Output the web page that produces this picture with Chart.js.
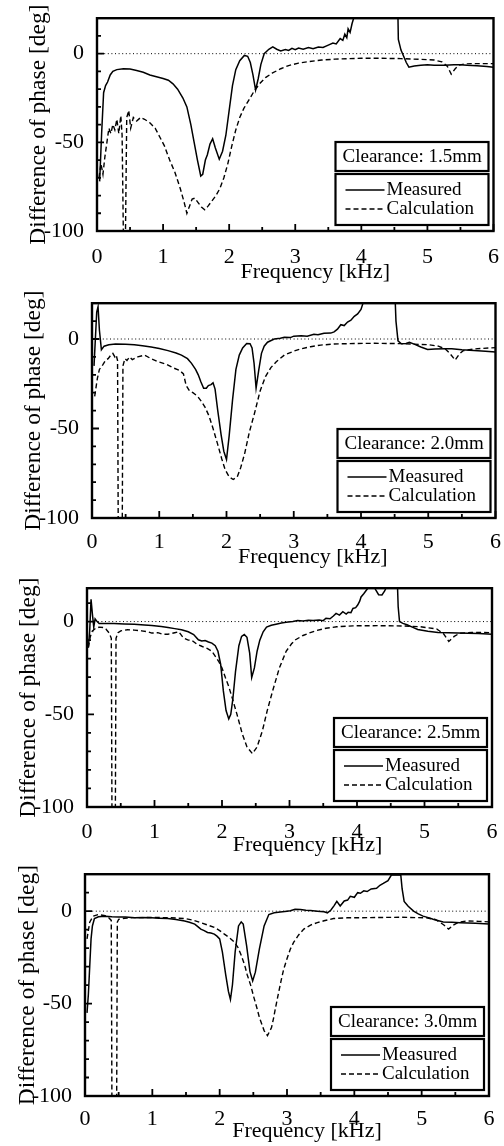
<!DOCTYPE html>
<html><head><meta charset="utf-8">
<script src="https://cdn.jsdelivr.net/npm/chart.js@4.4.1/dist/chart.umd.min.js"></script>
<style>
html,body{margin:0;padding:0;background:#fff;overflow:hidden;width:504px;height:1146px;}
canvas{position:absolute;left:0;}
</style></head><body>
<canvas id="c0"></canvas><canvas id="c1"></canvas><canvas id="c2"></canvas><canvas id="c3"></canvas>
<script>
// ---------- data ----------
const clearances = ['1.5', '2.0', '2.5', '3.0'];
const xTickValues = [0, 1, 2, 3, 4, 5, 6];
const xMinorTicks = [0.5, 1.5, 2.5, 3.5, 4.5, 5.5];
const yTickValues = [-100, -50, 0];
const yMinorTicks = [-90, -80, -70, -60, -40, -30, -20, -10, 10];
const yMaxValues = [20, 20, 18, 20];
const zeroX = [0, 6];
const zeroY = [0, 0];

// Clearance 1.5 mm
const freqMeas15 = [0.04,0.07,0.10,0.13,0.16,0.2,0.24,0.3,0.4,0.5,0.6,0.7,0.8,0.9,1.0,1.08,1.15,1.22,1.3,1.36,1.42,1.47,1.52,1.57,1.6,1.64,1.67,1.71,1.75,1.79,1.85,1.9,1.95,2.0,2.05,2.1,2.16,2.23,2.28,2.32,2.36,2.4,2.44,2.48,2.53,2.6,2.66,2.72,2.78,2.85,2.9,2.95,3.0,3.05,3.12,3.2,3.27,3.35,3.42,3.5,3.57,3.62,3.68,3.72,3.75,3.78,3.8,3.83,3.86,3.9,3.92,4.55,4.56,4.6,4.64,4.68,4.72,4.8,4.9,5.0,5.1,5.26,5.4,5.5,5.6,5.75,5.9,6.0];
const phaseMeas15 = [-72,-45,-22,-18,-16,-12,-10,-9,-8.5,-8.7,-9.5,-10.5,-12,-13,-14,-15,-17,-20,-25,-30,-40,-50,-60,-69,-68,-60,-57,-51,-48,-53,-59.5,-55,-46,-32,-18,-9,-4,-1,-1.5,-5,-12,-20.5,-14,-6,0,2.5,3.8,2.5,1.5,2.3,1.8,3,2.2,3.2,2.5,3.5,2.8,3.8,3.5,4.8,6,5.5,8.5,7.5,11,9,14,12,17,22,30,30,8,2,-1.5,-5,-7.6,-7,-6.5,-6.2,-6.5,-6.5,-6.2,-6.2,-6.5,-6.8,-7.2,-7.6];
const freqCalc15 = [0.03,0.06,0.09,0.12,0.15,0.18,0.21,0.24,0.27,0.3,0.33,0.36,0.38,0.40,0.43,0.45,0.48,0.51,0.55,0.6,0.66,0.72,0.8,0.88,0.95,1.02,1.1,1.18,1.26,1.32,1.36,1.4,1.44,1.48,1.53,1.58,1.63,1.68,1.74,1.8,1.86,1.92,1.98,2.04,2.1,2.16,2.22,2.3,2.38,2.46,2.55,2.65,2.78,2.9,3.05,3.2,3.4,3.6,3.8,4.0,4.3,4.6,4.9,5.1,5.22,5.3,5.36,5.42,5.48,5.56,5.7,6.0];
const phaseCalc15 = [-70,-62,-68,-58,-50,-42,-45,-40,-43,-37,-45,-35,-46,-105,-105,-36,-32,-42,-36,-38,-36,-37,-39,-42,-47,-52,-60,-67,-76,-84,-90,-86,-82,-81.5,-84,-86.5,-88,-86,-83,-80,-76,-70,-62,-52,-43,-36,-31,-26,-21,-17,-13.5,-11,-8.5,-6.7,-5.3,-4.5,-3.6,-3.1,-2.8,-2.6,-2.6,-2.8,-3.2,-3.6,-4.6,-7,-11.5,-8.5,-6.5,-5.8,-5.6,-5.6];

// Clearance 2.0 mm
const freqMeas20 = [0.03,0.07,0.09,0.11,0.14,0.18,0.25,0.35,0.5,0.63,0.75,0.88,1.0,1.13,1.25,1.33,1.42,1.48,1.54,1.58,1.62,1.66,1.7,1.73,1.77,1.8,1.83,1.87,1.92,1.96,2.0,2.04,2.09,2.14,2.19,2.24,2.3,2.35,2.38,2.41,2.44,2.48,2.52,2.56,2.61,2.71,2.8,2.86,2.95,3.0,3.11,3.2,3.3,3.36,3.45,3.55,3.6,3.65,3.7,3.75,3.8,3.85,3.9,3.95,4.0,4.03,4.05,4.5,4.52,4.55,4.6,4.67,4.72,4.8,4.89,4.99,5.1,5.25,5.35,5.5,5.68,5.85,6.0];
const phaseMeas20 = [-15,15,18,5,-6,-4,-3.2,-2.8,-3,-3.2,-3.8,-4.5,-5.3,-6.5,-7.8,-9,-11,-13.6,-17,-20,-24,-27.5,-27.5,-26,-25.5,-24.5,-28,-40,-53.6,-62.7,-67.3,-54,-34,-17,-9,-5,-2.5,-2.6,-5,-13.6,-27.5,-17.3,-8,-4,-1.8,0,0.4,1,0.8,1.6,1.8,1.5,2.6,2.4,3.2,3.3,4,5.5,8,7.5,9.5,10.5,12.7,14,16.5,20,30,30,10,-1,-2.7,-2.5,-1.8,-3,-4.5,-5.8,-5.6,-5.4,-5.5,-6,-6.4,-6.8,-7.3];
const freqCalc20 = [0.04,0.08,0.11,0.16,0.2,0.24,0.28,0.31,0.34,0.36,0.38,0.39,0.45,0.46,0.49,0.52,0.56,0.6,0.68,0.78,0.88,0.98,1.1,1.2,1.3,1.36,1.4,1.45,1.5,1.57,1.63,1.68,1.74,1.8,1.87,1.93,1.98,2.04,2.1,2.16,2.21,2.27,2.34,2.42,2.5,2.58,2.66,2.74,2.86,3.0,3.11,3.25,3.4,3.6,3.9,4.2,4.6,5.0,5.15,5.25,5.32,5.4,5.46,5.52,5.7,6.0];
const phaseCalc20 = [-32,-22,-17,-14.5,-12,-11,-9,-8,-10,-9,-12,-105,-105,-15,-11,-12,-10,-11.5,-10,-9,-11,-12.7,-14,-16,-17.5,-19.5,-26,-29,-30,-32,-35,-38,-43,-50,-59,-67,-73,-77,-78.5,-77,-72,-64,-52,-41,-29,-21,-16,-12.7,-9,-6.8,-5.5,-4.3,-3.4,-2.8,-2.5,-2.4,-2.6,-3.2,-4,-5.5,-8,-11.8,-8.5,-6.5,-5.5,-4.8];

// Clearance 2.5 mm
const freqMeas25 = [0.02,0.04,0.06,0.08,0.1,0.12,0.15,0.18,0.25,0.4,0.55,0.7,0.85,0.96,1.1,1.2,1.3,1.4,1.5,1.58,1.65,1.7,1.75,1.8,1.85,1.9,1.94,1.98,2.02,2.06,2.1,2.13,2.16,2.2,2.25,2.29,2.33,2.37,2.41,2.44,2.48,2.52,2.56,2.61,2.66,2.73,2.8,2.88,2.95,3.05,3.12,3.2,3.28,3.35,3.44,3.5,3.54,3.6,3.65,3.69,3.74,3.79,3.84,3.87,3.91,3.94,3.98,4.01,4.04,4.06,4.1,4.16,4.25,4.28,4.32,4.37,4.41,4.44,4.6,4.61,4.63,4.68,4.74,4.82,4.9,5.05,5.2,5.5,5.8,6.0];
const phaseMeas25 = [-14,-5,12,4,-3,1.5,0,-1,-1,-1.1,-1.3,-1.5,-1.8,-2.1,-2.7,-3.2,-3.8,-4.4,-5.5,-7,-9.8,-10.5,-10.2,-11,-11.6,-13,-16,-23,-37.4,-48,-52.5,-50,-42,-27,-13,-8,-7,-8.5,-17,-30.2,-25,-16,-10,-5.5,-3,-2,-1.4,-0.8,-0.4,0,0.6,0.3,0.7,0.6,0.9,0.5,1.8,1.5,3,4.4,3.5,5.3,4,5,4.8,7.1,7.5,8.9,11,13.3,15,18,19,17,14.5,14.4,16.5,19,19,8,0,-1,-1.7,-3,-4.3,-5.2,-5.9,-6.2,-6.4,-6.8];
const freqCalc25 = [0.02,0.05,0.08,0.13,0.18,0.24,0.28,0.33,0.36,0.37,0.42,0.43,0.46,0.5,0.6,0.7,0.81,0.9,0.96,1.05,1.12,1.2,1.3,1.36,1.43,1.5,1.55,1.62,1.7,1.78,1.85,1.95,2.0,2.05,2.1,2.15,2.22,2.3,2.37,2.45,2.52,2.6,2.67,2.75,2.85,2.95,3.03,3.09,3.2,3.29,3.4,3.54,3.7,3.94,4.3,4.7,4.94,5.18,5.28,5.36,5.44,5.52,5.7,6.0];
const phaseCalc25 = [-14,-8,-5,-3.6,-3,-3.2,-4,-6.2,-9,-105,-105,-9,-6,-5,-4.4,-4.6,-5,-5.5,-6.2,-6,-6.8,-6.8,-6,-5.5,-8.9,-10,-10,-12,-13.3,-14.5,-16,-21.4,-25,-30.2,-35,-41,-49.8,-60.5,-67.6,-71.2,-67.6,-58.7,-48,-37.4,-25,-16,-12,-9.8,-7.5,-6.2,-4.8,-3.6,-2.8,-2.3,-2.2,-2.4,-2.8,-4,-6.5,-10.7,-8,-6.3,-5.8,-6];

// Clearance 3.0 mm
const freqMeas30 = [0.03,0.05,0.07,0.09,0.11,0.14,0.2,0.3,0.4,0.5,0.6,0.74,0.85,0.99,1.1,1.23,1.35,1.48,1.55,1.63,1.68,1.72,1.77,1.82,1.87,1.92,1.96,2.0,2.04,2.09,2.13,2.16,2.19,2.23,2.28,2.32,2.35,2.4,2.45,2.49,2.53,2.59,2.66,2.73,2.81,2.9,3.0,3.05,3.12,3.2,3.28,3.35,3.45,3.55,3.6,3.65,3.7,3.74,3.79,3.85,3.9,3.94,4.0,4.05,4.09,4.14,4.19,4.25,4.33,4.38,4.43,4.5,4.55,4.69,4.71,4.74,4.8,4.88,4.95,5.02,5.1,5.17,5.32,5.45,5.57,5.8,6.0];
const phaseMeas30 = [-55,-45,-30,-15,-8,-4,-3,-2.8,-3,-3.1,-3.2,-3.5,-3.4,-3.6,-3.8,-4,-4.5,-5.3,-6,-7,-8.5,-9.7,-10.5,-11.5,-11.8,-12.4,-13.5,-15,-22,-34.5,-43.4,-47.8,-39.8,-22,-8,-5.8,-7,-18.6,-32.7,-37.7,-33,-20.4,-8,-1.8,-0.9,-0.5,0,0.2,1,0.9,0.5,0.3,0,-0.3,-0.9,0.5,3,5.3,2.8,5.5,6,8,7.5,10,9.7,11,10.6,12,12.4,14,15,16.5,19.5,19.5,12,5.3,2.7,0,-1.5,-2.7,-3.5,-4.4,-5.8,-6,-6.2,-6.6,-7];
const freqCalc30 = [0.03,0.07,0.12,0.2,0.3,0.35,0.39,0.4,0.47,0.48,0.5,0.59,0.7,0.84,1.0,1.23,1.48,1.6,1.72,1.82,1.92,2.0,2.07,2.15,2.22,2.27,2.32,2.37,2.41,2.46,2.51,2.55,2.59,2.63,2.66,2.71,2.77,2.8,2.83,2.87,2.91,2.95,3.0,3.05,3.1,3.17,3.25,3.35,3.45,3.55,3.69,3.9,4.19,4.68,5.07,5.2,5.27,5.33,5.4,5.47,5.55,5.67,5.85,6.0];
const phaseCalc30 = [-15,-6,-2.7,-1.8,-2.5,-3.5,-5,-105,-105,-6,-4.4,-3.8,-3.5,-3.5,-3.4,-3.5,-4,-4.8,-6.2,-7.5,-8.8,-10.5,-12.4,-14.5,-16.8,-19.5,-23.9,-29,-34.5,-40,-46.9,-52,-57.5,-61.5,-64.6,-67.3,-63,-58,-52.2,-45,-38,-31.5,-25.7,-20.5,-16.8,-13,-9.7,-7.5,-6.2,-5.2,-4,-3.6,-3.5,-3.3,-3.6,-4.5,-6,-7.5,-9.7,-7.5,-6,-5.3,-5.5,-5.8];

const panels = [
  {clear: clearances[0], fm: freqMeas15, pm: phaseMeas15, fc: freqCalc15, pc: phaseCalc15, ymax: yMaxValues[0]},
  {clear: clearances[1], fm: freqMeas20, pm: phaseMeas20, fc: freqCalc20, pc: phaseCalc20, ymax: yMaxValues[1]},
  {clear: clearances[2], fm: freqMeas25, pm: phaseMeas25, fc: freqCalc25, pc: phaseCalc25, ymax: yMaxValues[2]},
  {clear: clearances[3], fm: freqMeas30, pm: phaseMeas30, fc: freqCalc30, pc: phaseCalc30, ymax: yMaxValues[3]},
];

// ---------- layout / style ----------
const layouts = [
  {top: 0,   h: 300, L: 97, R: 501, T: 11, B: 231, yTitlePad: 27, xTickPad: 5, xTitleDx: 20, xTitleDy: 41},
  {top: 285, h: 300, L: 92, R: 496, T: 11, B: 233, yTitlePad: 22, xTickPad: 3, xTitleDx: 19, xTitleDy: 39},
  {top: 570, h: 300, L: 87, R: 492, T: 16, B: 237, yTitlePad: 17, xTickPad: 4, xTitleDx: 18, xTitleDy: 38},
  {top: 856, h: 290, L: 85, R: 489, T: 14, B: 240, yTitlePad: 16, xTickPad: 2, xTitleDx: 20, xTitleDy: 35},
];
const FAM = "'Liberation Serif', 'Times New Roman', serif";
Chart.defaults.font.family = FAM;
Chart.defaults.color = '#000';

const zip = (xs, ys) => xs.map((x, i) => ({x: x, y: ys[i]}));

const decorPlugin = {
  id: 'decor',
  afterDraw(chart, args, opts) {
    const ctx = chart.ctx;
    const a = chart.chartArea;
    const xs = chart.scales.x, ys = chart.scales.y;
    ctx.save();
    ctx.strokeStyle = '#000';
    ctx.fillStyle = '#000';
    // ticks (inward)
    ctx.lineWidth = 1.8;
    ctx.beginPath();
    xTickValues.forEach(v => { const px = xs.getPixelForValue(v); ctx.moveTo(px, a.bottom); ctx.lineTo(px, a.bottom - 7); });
    xMinorTicks.forEach(v => { const px = xs.getPixelForValue(v); ctx.moveTo(px, a.bottom); ctx.lineTo(px, a.bottom - 4); });
    yTickValues.forEach(v => { const py = ys.getPixelForValue(v); ctx.moveTo(a.left, py); ctx.lineTo(a.left + 7, py); });
    yMinorTicks.filter(v => v < ys.max).forEach(v => { const py = ys.getPixelForValue(v); ctx.moveTo(a.left, py); ctx.lineTo(a.left + 4, py); });
    ctx.stroke();
    // frame
    ctx.lineWidth = 2.4;
    ctx.strokeRect(a.left, a.top, a.right - a.left, a.bottom - a.top);
    // x title
    ctx.font = "22px " + FAM;
    ctx.textAlign = 'center';
    ctx.textBaseline = 'middle';
    ctx.fillText(xs.options.title.text, (a.left + a.right) / 2 + opts.dx, a.bottom + opts.dy);
    // legend boxes
    const w = 153, right = a.right - 5, bottom = a.bottom - 6;
    const bx = right - w;
    const mTop = bottom - 51;
    const cTop = mTop - 3 - 29;
    ctx.fillStyle = '#fff';
    ctx.fillRect(bx, cTop, w, 29);
    ctx.fillRect(bx, mTop, w, 51);
    ctx.lineWidth = 2.2;
    ctx.strokeRect(bx, cTop, w, 29);
    ctx.strokeRect(bx, mTop, w, 51);
    ctx.fillStyle = '#000';
    ctx.font = "19px " + FAM;
    ctx.textAlign = 'left';
    ctx.fillText('Clearance: ' + opts.clear + 'mm', bx + 7, cTop + 15);
    const items = chart.data.datasets.filter(d => d.label);
    items.forEach((d, i) => {
      const cy = mTop + 16 + i * 19;
      ctx.lineWidth = d.borderWidth;
      ctx.setLineDash(d.borderDash || []);
      ctx.beginPath();
      ctx.moveTo(bx + 10, cy); ctx.lineTo(bx + 49, cy);
      ctx.stroke();
      ctx.setLineDash([]);
      ctx.fillText(d.label, bx + 51, cy);
    });
    ctx.restore();
  }
};

panels.forEach((p, i) => {
  const lay = layouts[i];
  const cv = document.getElementById('c' + i);
  cv.width = 504; cv.height = lay.h;
  cv.style.top = lay.top + 'px';
  cv.style.width = '504px'; cv.style.height = lay.h + 'px';
  new Chart(cv, {
    type: 'line',
    data: {
      datasets: [
        {label: 'Measured', data: zip(p.fm, p.pm), borderColor: '#000', borderWidth: 1.5, pointRadius: 0, fill: false, tension: 0},
        {label: 'Calculation', data: zip(p.fc, p.pc), borderColor: '#000', borderWidth: 1.4, borderDash: [5, 3], pointRadius: 0, fill: false, tension: 0},
        {label: '', data: zip(zeroX, zeroY), borderColor: '#000', borderWidth: 1, borderDash: [1, 2.6], pointRadius: 0, fill: false}
      ]
    },
    options: {
      responsive: false,
      animation: false,
      layout: {padding: {left: 0, top: lay.T, right: 504 - lay.R, bottom: lay.h - lay.B - 52}},
      plugins: {
        legend: {display: false},
        tooltip: {enabled: false},
        decor: {clear: p.clear, dx: lay.xTitleDx, dy: lay.xTitleDy}
      },
      scales: {
        x: {
          type: 'linear', min: 0, max: 6,
          afterBuildTicks: s => { s.ticks = xTickValues.map(v => ({value: v})); },
          afterFit: s => { s.height = 52; },
          grid: {display: false}, border: {display: false},
          ticks: {padding: lay.xTickPad, font: {size: 22}, color: '#000', maxRotation: 0, autoSkip: false},
          title: {display: false, text: 'Frequency [kHz]'}
        },
        y: {
          type: 'linear', min: -100, max: p.ymax,
          afterBuildTicks: s => { s.ticks = yTickValues.map(v => ({value: v})); },
          afterFit: s => { s.width = lay.L; },
          grid: {display: false}, border: {display: false},
          ticks: {padding: 5, font: {size: 22}, color: '#000'},
          title: {display: true, text: 'Difference of phase [deg]', font: {size: 23.5, lineHeight: 1}, color: '#000', padding: {top: lay.yTitlePad, bottom: 0}}
        }
      }
    },
    plugins: [decorPlugin]
  });
});
</script>
</body></html>
